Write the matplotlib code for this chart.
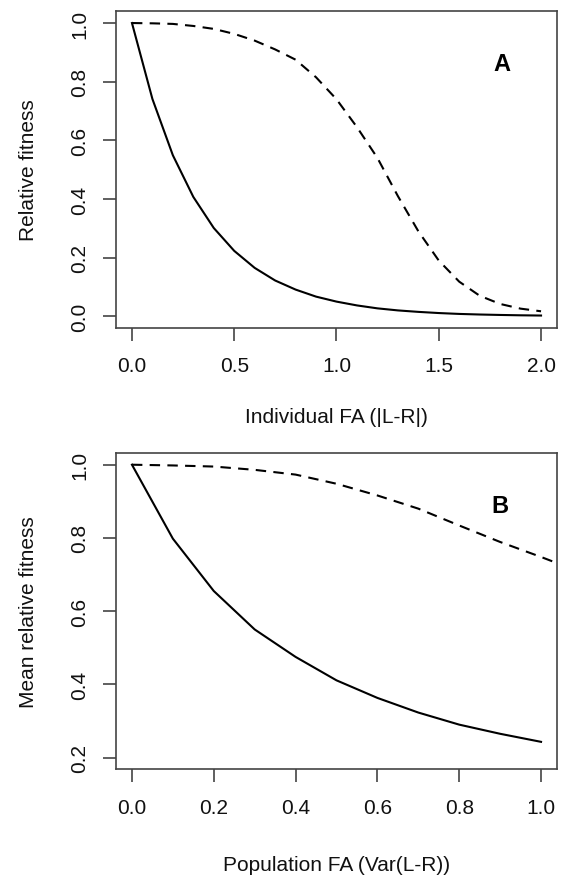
import numpy as np
import matplotlib
matplotlib.use("Agg")
import matplotlib.pyplot as plt

plt.rcParams['font.family'] = ['Liberation Sans', 'DejaVu Sans']

# panel A: individual asymmetry vs relative fitness
fa_ind = [0.0, 0.1, 0.2, 0.3, 0.4, 0.5, 0.6, 0.7, 0.8, 0.9, 1.0,
          1.1, 1.2, 1.3, 1.4, 1.5, 1.6, 1.7, 1.8, 1.9, 2.0]
fit_a_solid = [1.0, 0.741, 0.549, 0.407, 0.301, 0.223, 0.165, 0.122, 0.091, 0.067, 0.050,
               0.037, 0.027, 0.020, 0.015, 0.011, 0.008, 0.006, 0.0045, 0.0033, 0.0025]
fit_a_dashed = [1.0, 0.999, 0.997, 0.990, 0.980, 0.963, 0.940, 0.910, 0.875, 0.815, 0.740,
                0.645, 0.540, 0.410, 0.290, 0.190, 0.118, 0.070, 0.042, 0.026, 0.017]

# panel B: population FA vs mean relative fitness
fa_pop = [0.0, 0.1, 0.2, 0.3, 0.4, 0.5, 0.6, 0.7, 0.8, 0.9, 1.0]
fit_b_solid = [1.0, 0.798, 0.655, 0.550, 0.475, 0.411, 0.363, 0.323, 0.290, 0.265, 0.243]
fa_pop_dashed = [0.0, 0.1, 0.2, 0.3, 0.4, 0.5, 0.6, 0.7, 0.8, 0.9, 1.0, 1.1]
fit_b_dashed = [1.0, 0.998, 0.995, 0.986, 0.973, 0.948, 0.916, 0.880, 0.834, 0.789, 0.748, 0.705]

W, H = 562, 879
fig = plt.figure(figsize=(W / 100, H / 100), dpi=100)

BOX = '#444444'


def px_axes(left, top, right, bottom):
    return fig.add_axes([left / W, 1 - bottom / H, (right - left) / W, (bottom - top) / H])


def style(ax, xticks, yticks):
    for s in ax.spines.values():
        s.set_color(BOX)
        s.set_linewidth(1.2)
    ax.set_xticks(xticks)
    ax.set_yticks(yticks)
    ax.set_xticklabels([f"{t:.1f}" for t in xticks])
    ax.set_yticklabels([f"{t:.1f}" for t in yticks], rotation=90, va='center')
    ax.tick_params(axis='both', direction='out', length=9.4, width=1.2, color=BOX,
                   labelsize=15, labelcolor='#111111')
    ax.tick_params(axis='x', pad=11)
    ax.tick_params(axis='y', pad=9.5)


lw = 1.5
dash = (5, 3.5)

# ---- panel A ----
axA = px_axes(115.6, 12.3, 557.4, 329)
axA.plot(fa_ind, fit_a_solid, color='black', lw=lw)
axA.plot(fa_ind, fit_a_dashed, color='black', lw=lw, linestyle=(0, dash))
axA.set_xlim(-0.08, 2.08)
axA.set_ylim(-0.04, 1.04)
style(axA, [0.0, 0.5, 1.0, 1.5, 2.0], [0.0, 0.2, 0.4, 0.6, 0.8, 1.0])
axA.text(1.81, 0.863, 'A', fontsize=17, fontweight='bold', ha='center', va='center')

# ---- panel B ----
axB = px_axes(115.6, 454, 557.4, 770.3)
axB.plot(fa_pop, fit_b_solid, color='black', lw=lw)
axB.plot(fa_pop_dashed, fit_b_dashed, color='black', lw=lw, linestyle=(0, dash))
axB.set_xlim(-0.04, 1.04)
axB.set_ylim(0.168, 1.032)
style(axB, [0.0, 0.2, 0.4, 0.6, 0.8, 1.0], [0.2, 0.4, 0.6, 0.8, 1.0])
axB.text(0.90, 0.889, 'B', fontsize=17, fontweight='bold', ha='center', va='center')

# axis titles placed in pixel coordinates
fig.text(336.5 / W, 1 - 423 / H, 'Individual FA (|L-R|)', fontsize=15,
         ha='center', va='baseline', color='#111111')
fig.text(336.5 / W, 1 - 871 / H, 'Population FA (Var(L-R))', fontsize=15,
         ha='center', va='baseline', color='#111111')
fig.text(34 / W, 1 - 170.6 / H, 'Relative fitness', fontsize=15, rotation=90,
         rotation_mode='anchor', ha='center', va='baseline', color='#111111')
fig.text(34 / W, 1 - 612 / H, 'Mean relative fitness', fontsize=15, rotation=90,
         rotation_mode='anchor', ha='center', va='baseline', color='#111111')

fig.savefig('out.png', dpi=100)
